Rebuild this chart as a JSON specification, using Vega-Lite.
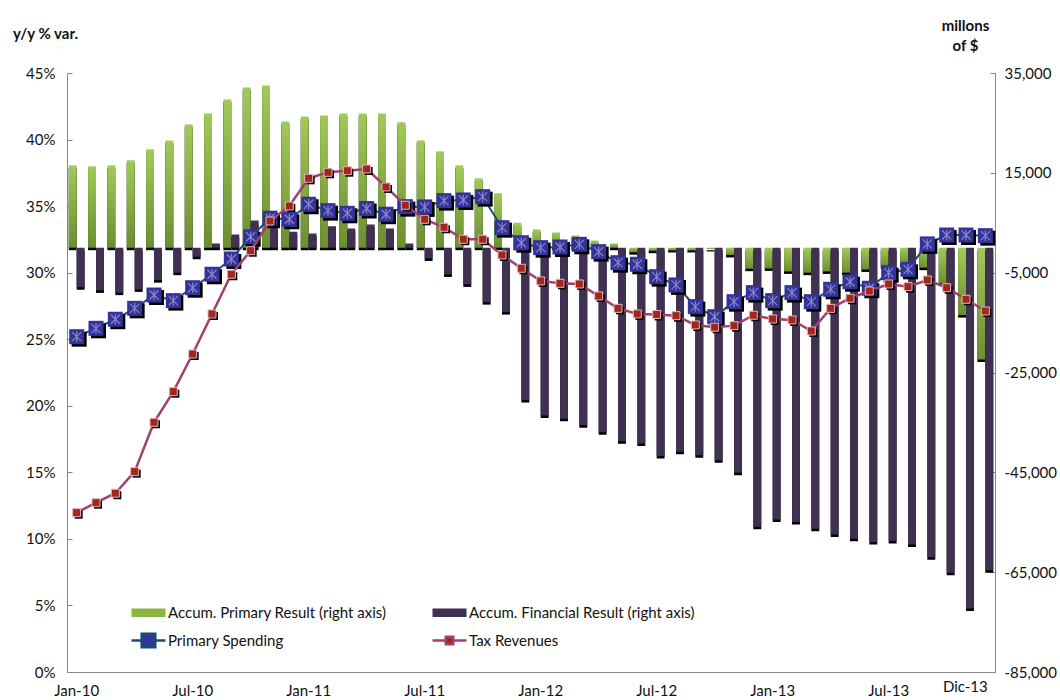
{
  "$schema": "https://vega.github.io/schema/vega-lite/v6.json",
  "width": 928,
  "height": 599,
  "autosize": {"type": "none"},
  "padding": {"left": 67, "top": 73, "right": 65, "bottom": 28},
  "background": "white",
  "config": {
    "view": {"stroke": null},
    "font": "Lato",
    "axis": {
      "labelFont": "Lato",
      "labelFontSize": 15,
      "labelColor": "#111111",
      "titleFont": "Lato",
      "titleColor": "#111111",
      "domainColor": "#868686",
      "tickColor": "#868686",
      "grid": false
    }
  },
  "data": {
    "values": [
      {"m": "Jan-10", "pr": 16500, "fr": -7900, "ps": 25.19, "tr": 11.97},
      {"m": "Feb-10", "pr": 16300, "fr": -8550, "ps": 25.82, "tr": 12.72},
      {"m": "Mar-10", "pr": 16500, "fr": -9000, "ps": 26.50, "tr": 13.43},
      {"m": "Apr-10", "pr": 17500, "fr": -8350, "ps": 27.32, "tr": 15.05},
      {"m": "May-10", "pr": 19700, "fr": -6500, "ps": 28.32, "tr": 18.76},
      {"m": "Jun-10", "pr": 21500, "fr": -5000, "ps": 27.90, "tr": 21.06},
      {"m": "Jul-10", "pr": 24700, "fr": -1800, "ps": 28.87, "tr": 23.89},
      {"m": "Aug-10", "pr": 26900, "fr": 850, "ps": 29.88, "tr": 26.90},
      {"m": "Sep-10", "pr": 29700, "fr": 2650, "ps": 31.03, "tr": 29.88},
      {"m": "Oct-10", "pr": 32100, "fr": 5450, "ps": 32.70, "tr": 31.65},
      {"m": "Nov-10", "pr": 32500, "fr": 4300, "ps": 34.09, "tr": 33.88},
      {"m": "Dic-10", "pr": 25300, "fr": 3200, "ps": 34.01, "tr": 35.01},
      {"m": "Jan-11", "pr": 26300, "fr": 2850, "ps": 35.14, "tr": 37.09},
      {"m": "Feb-11", "pr": 26500, "fr": 4300, "ps": 34.66, "tr": 37.54},
      {"m": "Mar-11", "pr": 26900, "fr": 3850, "ps": 34.46, "tr": 37.66},
      {"m": "Apr-11", "pr": 26900, "fr": 4650, "ps": 34.82, "tr": 37.79},
      {"m": "May-11", "pr": 26900, "fr": 3850, "ps": 34.39, "tr": 36.44},
      {"m": "Jun-11", "pr": 25150, "fr": 850, "ps": 34.96, "tr": 35.06},
      {"m": "Jul-11", "pr": 21500, "fr": -2150, "ps": 34.94, "tr": 34.01},
      {"m": "Aug-11", "pr": 19300, "fr": -5350, "ps": 35.41, "tr": 33.41},
      {"m": "Sep-11", "pr": 16500, "fr": -7350, "ps": 35.46, "tr": 32.51},
      {"m": "Oct-11", "pr": 13900, "fr": -10900, "ps": 35.71, "tr": 32.51},
      {"m": "Nov-11", "pr": 10900, "fr": -12900, "ps": 33.38, "tr": 31.33},
      {"m": "Dic-11", "pr": 5000, "fr": -30500, "ps": 32.25, "tr": 30.33},
      {"m": "Jan-12", "pr": 3650, "fr": -33600, "ps": 31.88, "tr": 29.38},
      {"m": "Feb-12", "pr": 3050, "fr": -34250, "ps": 31.93, "tr": 29.20},
      {"m": "Mar-12", "pr": 2450, "fr": -35550, "ps": 32.13, "tr": 29.15},
      {"m": "Apr-12", "pr": 1450, "fr": -36950, "ps": 31.58, "tr": 28.25},
      {"m": "May-12", "pr": 850, "fr": -38750, "ps": 30.75, "tr": 27.32},
      {"m": "Jun-12", "pr": -900, "fr": -39200, "ps": 30.63, "tr": 26.90},
      {"m": "Jul-12", "pr": -600, "fr": -41750, "ps": 29.70, "tr": 26.86},
      {"m": "Aug-12", "pr": -450, "fr": -40900, "ps": 29.08, "tr": 26.77},
      {"m": "Sep-12", "pr": -450, "fr": -41600, "ps": 27.45, "tr": 26.07},
      {"m": "Oct-12", "pr": -250, "fr": -42600, "ps": 26.69, "tr": 25.90},
      {"m": "Nov-12", "pr": -1450, "fr": -45100, "ps": 27.82, "tr": 26.02},
      {"m": "Dic-12", "pr": -4200, "fr": -55900, "ps": 28.50, "tr": 26.80},
      {"m": "Jan-13", "pr": -4150, "fr": -54450, "ps": 27.90, "tr": 26.52},
      {"m": "Feb-13", "pr": -4750, "fr": -54950, "ps": 28.50, "tr": 26.45},
      {"m": "Mar-13", "pr": -5000, "fr": -56300, "ps": 27.82, "tr": 25.62},
      {"m": "Apr-13", "pr": -4750, "fr": -57450, "ps": 28.75, "tr": 27.32},
      {"m": "May-13", "pr": -5000, "fr": -58300, "ps": 29.32, "tr": 28.08},
      {"m": "Jun-13", "pr": -4350, "fr": -58950, "ps": 28.83, "tr": 28.62},
      {"m": "Jul-13", "pr": -3700, "fr": -58750, "ps": 30.00, "tr": 29.15},
      {"m": "Aug-13", "pr": -3400, "fr": -59450, "ps": 30.25, "tr": 28.95},
      {"m": "Sep-13", "pr": -4000, "fr": -62000, "ps": 32.16, "tr": 29.45},
      {"m": "Oct-13", "pr": -7150, "fr": -65100, "ps": 32.83, "tr": 28.87},
      {"m": "Nov-13", "pr": -13500, "fr": -72300, "ps": 32.83, "tr": 28.00},
      {"m": "Dic-13", "pr": -22400, "fr": -64600, "ps": 32.78, "tr": 27.12}
    ]
  },
  "encoding": {
    "x": {
      "field": "m",
      "type": "nominal",
      "sort": null,
      "scale": {"type": "band", "paddingInner": 0.18, "paddingOuter": 0.09},
      "axis": {
        "title": null,
        "ticks": false,
        "labelAngle": 0,
        "labelOverlap": false,
        "labelPadding": {"condition": {"test": "datum.value == 'Dic-13'", "value": 7}, "value": 11},
        "labelOffset": {"condition": {"test": "datum.value == 'Dic-13'", "value": -20}, "value": 0},
        "labelExpr": "indexof(['Jan-10','Jul-10','Jan-11','Jul-11','Jan-12','Jul-12','Jan-13','Jul-13','Dic-13'], datum.value) >= 0 ? datum.value : ''"
      }
    }
  },
  "layer": [
    {
      "mark": {"type": "bar", "color": "#000000", "xOffset": 2.5, "yOffset": 2.5},
      "encoding": {
        "xOffset": {"datum": "pr", "scale": {"domain": ["pr", "fr"]}},
        "y": {"field": "pr", "type": "quantitative", "scale": {"domain": [-85000, 35000], "nice": false, "zero": false}, "axis": null}
      }
    },
    {
      "mark": {
        "type": "bar",
        "color": {
          "gradient": "linear", "x1": 0, "y1": 0, "x2": 0, "y2": 1,
          "stops": [{"offset": 0, "color": "#a2ca58"}, {"offset": 1, "color": "#6b8e30"}]
        }
      },
      "encoding": {
        "xOffset": {"datum": "pr", "scale": {"domain": ["pr", "fr"]}},
        "y": {
          "field": "pr", "type": "quantitative",
          "scale": {"domain": [-85000, 35000], "nice": false, "zero": false},
          "axis": {
            "orient": "right",
            "values": [-85000, -65000, -45000, -25000, -5000, 15000, 35000],
            "labelExpr": "(datum.value < 0 ? '-' : '') + format(abs(datum.value), ',')",
            "tickSize": -5,
            "labelPadding": 14,
            "title": ["millons", "of $"],
            "titleAngle": 0,
            "titleFontWeight": "bold",
            "titleFontSize": 15,
            "titleLineHeight": 20,
            "titleAlign": "center",
            "titleBaseline": "middle",
            "titleX": -30,
            "titleY": -48
          }
        }
      }
    },
    {
      "mark": {"type": "bar", "color": "#000000", "xOffset": 2.5, "yOffset": 2.5},
      "encoding": {
        "xOffset": {"datum": "fr", "scale": {"domain": ["pr", "fr"]}},
        "y": {"field": "fr", "type": "quantitative", "scale": {"domain": [-85000, 35000], "nice": false, "zero": false}, "axis": null}
      }
    },
    {
      "mark": {"type": "bar", "color": "#403152"},
      "encoding": {
        "xOffset": {"datum": "fr", "scale": {"domain": ["pr", "fr"]}},
        "y": {"field": "fr", "type": "quantitative", "scale": {"domain": [-85000, 35000], "nice": false, "zero": false}, "axis": null}
      }
    },
    {
      "mark": {"type": "line", "color": "#1c4a7a", "strokeWidth": 2},
      "encoding": {
        "y": {
          "field": "ps", "type": "quantitative",
          "scale": {"domain": [0, 45], "nice": false, "zero": false},
          "axis": {
            "orient": "left",
            "values": [0, 5, 10, 15, 20, 25, 30, 35, 40, 45],
            "labelExpr": "datum.value + '%'",
            "tickSize": -5,
            "labelPadding": 17,
            "title": "y/y % var.",
            "titleAngle": 0,
            "titleFontWeight": "bold",
            "titleFontSize": 15,
            "titleAlign": "center",
            "titleBaseline": "middle",
            "titleX": -22,
            "titleY": -40
          }
        }
      }
    },
    {
      "mark": {"type": "point", "shape": "square", "filled": true, "opacity": 1, "size": 225, "color": "#000000", "xOffset": 2.5, "yOffset": 2.5},
      "encoding": {"y": {"field": "ps", "type": "quantitative", "scale": {"domain": [0, 45], "nice": false, "zero": false}, "axis": null}}
    },
    {
      "mark": {"type": "point", "shape": "square", "filled": true, "opacity": 1, "size": 225, "color": "#333399"},
      "encoding": {"y": {"field": "ps", "type": "quantitative", "scale": {"domain": [0, 45], "nice": false, "zero": false}, "axis": null}}
    },
    {
      "mark": {"type": "point", "shape": "M-0.6,-0.6L0.6,0.6M-0.6,0.6L0.6,-0.6M0,-0.7L0,0.7", "filled": false, "opacity": 1, "size": 225, "stroke": "#8686c9", "strokeWidth": 1.2},
      "encoding": {"y": {"field": "ps", "type": "quantitative", "scale": {"domain": [0, 45], "nice": false, "zero": false}, "axis": null}}
    },
    {
      "mark": {"type": "line", "color": "#a0406c", "strokeWidth": 2.5},
      "encoding": {"y": {"field": "tr", "type": "quantitative", "scale": {"domain": [0, 45], "nice": false, "zero": false}, "axis": null}}
    },
    {
      "mark": {"type": "point", "shape": "square", "filled": true, "opacity": 1, "size": 64, "color": "#000000", "xOffset": 2, "yOffset": 2},
      "encoding": {"y": {"field": "tr", "type": "quantitative", "scale": {"domain": [0, 45], "nice": false, "zero": false}, "axis": null}}
    },
    {
      "mark": {"type": "point", "shape": "square", "filled": true, "opacity": 1, "size": 64, "fill": "#a3261b", "stroke": "#e6b3c6", "strokeWidth": 1},
      "encoding": {"y": {"field": "tr", "type": "quantitative", "scale": {"domain": [0, 45], "nice": false, "zero": false}, "axis": null}}
    },
    {
      "transform": [{"fold": ["ps", "tr"], "as": ["series", "pct"]}],
      "mark": {"type": "point", "filled": true, "opacity": 0},
      "encoding": {
        "x": {"value": 0},
        "fill": {
          "field": "series", "type": "nominal",
          "scale": {"domain": ["pr", "fr", "ps", "tr"], "range": ["#8db641", "#403152", "#333399", "#a3261b"]},
          "legend": {
            "title": null, "orient": "none", "direction": "horizontal", "legendX": 63, "legendY": 521, "columns": 2, "padding": 0,
            "symbolSize": 1156, "symbolStrokeWidth": 2.5, "symbolOpacity": 1,
            "labelFont": "Lato", "labelFontSize": 15, "labelColor": "#111111", "labelOffset": 1, "labelLimit": 400,
            "columnPadding": 40, "rowPadding": -8,
            "labelExpr": "datum.label == 'pr' ? 'Accum. Primary Result (right axis)' : datum.label == 'fr' ? 'Accum. Financial Result (right axis)' : datum.label == 'ps' ? 'Primary Spending' : 'Tax Revenues'"
          }
        },
        "stroke": {
          "field": "series", "type": "nominal",
          "scale": {"domain": ["pr", "fr", "ps", "tr"], "range": ["transparent", "transparent", "#1c4a7a", "#a0406c"]},
          "legend": {
            "title": null, "orient": "none", "direction": "horizontal", "legendX": 63, "legendY": 521, "columns": 2, "padding": 0,
            "symbolSize": 1156, "symbolStrokeWidth": 2.5, "symbolOpacity": 1,
            "labelFont": "Lato", "labelFontSize": 15, "labelColor": "#111111", "labelOffset": 1, "labelLimit": 400,
            "columnPadding": 40, "rowPadding": -8,
            "labelExpr": "datum.label == 'pr' ? 'Accum. Primary Result (right axis)' : datum.label == 'fr' ? 'Accum. Financial Result (right axis)' : datum.label == 'ps' ? 'Primary Spending' : 'Tax Revenues'"
          }
        },
        "shape": {
          "field": "series", "type": "nominal",
          "scale": {
            "domain": ["pr", "fr", "ps", "tr"],
            "range": [
              "M-1,-0.25H1V0.25H-1Z",
              "M-1,-0.25H1V0.25H-1Z",
              "M-1,0H-0.4M0.4,0H1M-0.4,-0.4H0.4V0.4H-0.4Z",
              "M-1,0H-0.22M0.22,0H1M-0.22,-0.22H0.22V0.22H-0.22Z"
            ]
          },
          "legend": {
            "title": null, "orient": "none", "direction": "horizontal", "legendX": 63, "legendY": 521, "columns": 2, "padding": 0,
            "symbolSize": 1156, "symbolStrokeWidth": 2.5, "symbolOpacity": 1,
            "labelFont": "Lato", "labelFontSize": 15, "labelColor": "#111111", "labelOffset": 1, "labelLimit": 400,
            "columnPadding": 40, "rowPadding": -8,
            "labelExpr": "datum.label == 'pr' ? 'Accum. Primary Result (right axis)' : datum.label == 'fr' ? 'Accum. Financial Result (right axis)' : datum.label == 'ps' ? 'Primary Spending' : 'Tax Revenues'"
          }
        }
      }
    }
  ],
  "resolve": {"scale": {"y": "independent"}}
}
